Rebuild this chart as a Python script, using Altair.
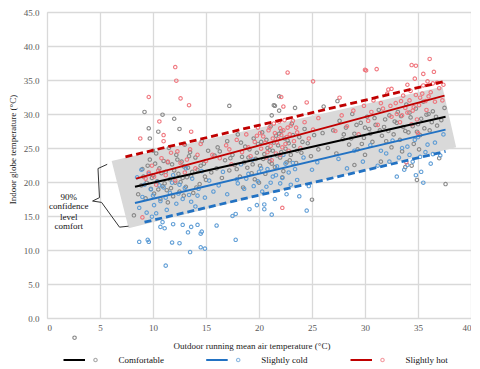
import altair as alt
import pandas as pd

# ---------------- data ----------------
comfortable_pts = [
    (8.6,18.2),(8.9,19.5),(9.1,20.8),(9.3,17.6),(9.5,22.4),(9.7,23.3),(9.8,19.0),(10.0,21.0),
    (10.1,18.3),(10.3,24.2),(10.4,20.1),(10.6,22.0),(10.7,17.5),(10.9,19.4),(11.0,23.1),(11.2,21.5),
    (11.3,18.8),(11.5,25.0),(11.6,20.4),(11.8,22.6),(11.9,17.9),(12.1,19.9),(12.2,24.0),(12.4,21.2),
    (12.5,18.6),(12.7,23.0),(12.8,20.6),(13.0,25.5),(13.1,19.3),(13.3,22.1),(13.5,24.4),(13.6,20.9),
    (13.8,18.4),(14.0,23.6),(14.2,21.8),(14.4,19.7),(14.6,26.0),(14.8,22.7),(15.0,20.3),(15.2,24.6),
    (15.5,21.4),(15.8,23.9),
    (9.4,19.9),(9.9,20.6),(10.2,22.7),(10.5,18.9),(10.8,21.3),(11.1,19.8),(11.4,22.9),(11.7,19.1),
    (12.0,21.7),(12.3,23.3),(12.6,20.0),(12.9,22.3),(13.2,20.7),(13.4,23.8),(13.7,21.5),(14.1,19.2),
    (14.5,22.4),(14.9,20.8),(10.0,24.6),(11.4,17.0),(12.9,18.0),(9.0,21.9),
    (9.2,30.3),(9.6,27.9),(9.7,26.4),(10.5,27.4),(10.9,29.9),(12.0,29.3),(12.5,27.8),(16.1,25.1),
    (17.2,31.2),(8.2,15.1),
    (16.0,22.0),(16.3,24.5),(16.5,20.6),(16.8,23.2),(17.0,26.0),(17.2,21.7),(17.5,24.0),(17.7,22.5),
    (18.0,27.0),(18.2,20.8),(18.4,23.7),(18.7,25.2),(18.9,22.1),(19.1,24.8),(19.3,21.3),(19.5,26.4),
    (19.7,23.4),(19.9,25.6),(20.1,22.4),(20.3,27.3),(20.5,24.1),(20.6,21.2),(20.8,25.0),(21.0,23.0),
    (21.1,28.2),(21.3,24.6),(21.5,22.2),(21.6,26.8),(21.8,25.4),(22.0,23.6),(22.1,27.5),(22.3,21.6),
    (22.5,24.9),(22.7,26.1),(22.9,23.2),(23.1,28.6),(23.3,25.3),(23.5,22.8),(23.8,26.6),(24.0,24.3),
    (24.3,27.8),(24.6,25.7),(24.9,23.8),(25.2,26.9),(25.6,24.8),(26.0,27.2),
    (17.3,23.5),(17.9,21.9),(18.3,25.8),(18.6,22.9),(19.0,23.6),(19.4,22.6),(19.8,24.3),(20.2,25.9),
    (20.4,23.4),(20.7,26.2),(21.0,24.7),(21.2,22.7),(21.4,25.8),(21.7,23.9),(21.9,27.1),(22.1,24.4),
    (22.4,26.4),(22.6,22.9),(22.8,25.7),(23.0,24.0),(23.2,26.9),(23.6,24.6),(24.1,25.9),(19.6,20.4),
    (22.2,20.7),
    (21.9,32.6),(21.4,31.3),(21.2,29.8),(21.9,30.5),(23.4,30.9),(21.5,31.2),(26.1,31.1),(27.4,31.9),
    (25.0,17.4),(18.5,19.2),(20.0,19.9),
    (26.5,25.0),(27.0,27.6),(27.3,24.2),(27.6,29.0),(27.9,26.3),(28.2,28.0),(28.5,25.5),(28.8,30.0),
    (29.0,27.1),(29.3,24.8),(29.6,28.7),(29.9,26.5),(30.2,29.6),(30.4,27.8),(30.7,25.9),(31.0,28.4),
    (31.3,30.6),(31.6,26.8),(31.9,29.2),(32.2,27.5),(32.5,25.1),(32.8,28.9),(33.1,30.3),(33.3,26.2),
    (33.6,28.1),(33.9,31.4),(34.1,27.3),(34.3,29.5),(34.6,25.6),(34.8,30.8),(35.0,28.5),(35.2,26.9),
    (35.5,31.8),(35.8,29.9),(36.1,27.6),(36.4,30.4),(36.8,28.3),(37.2,29.1),(37.5,30.9),
    (28.0,27.0),(28.7,26.4),(29.2,28.4),(29.7,25.6),(30.0,28.0),(30.5,27.1),(30.9,29.4),(31.4,27.6),
    (31.8,28.1),(32.3,29.8),(32.7,27.0),(33.0,28.7),(33.4,29.7),(33.8,27.5),(34.2,30.2),(34.5,28.2),
    (34.9,27.4),(35.3,29.3),(35.6,27.9),(36.0,30.0),(36.3,28.8),(36.7,29.6),(35.1,24.8),(33.5,24.5),
    (32.0,26.0),(30.0,24.0),
    (34.9,20.3),(33.8,22.2),(34.4,22.4),(37.6,19.7),(37.0,23.5),(31.5,23.0),(29.0,22.5),
    (2.6,-2.9),
]

slightly_cold_pts = [
    (8.5,20.7),(8.9,21.8),(9.6,21.2),(8.7,16.2),(9.0,17.8),(9.4,15.5),(9.8,18.9),(10.1,16.6),
    (10.4,20.0),(10.7,17.2),(11.0,19.2),(11.3,15.9),(11.6,18.4),(11.9,21.0),(12.2,16.8),(12.5,19.6),
    (12.8,17.5),(13.1,22.0),(13.4,18.1),(13.7,20.5),(14.0,16.4),(14.3,19.0),(14.6,21.6),(14.9,17.7),
    (15.3,20.2),(15.7,18.6),
    (9.2,19.6),(10.0,18.0),(10.6,19.5),(11.2,17.7),(11.8,19.9),(12.4,18.3),(13.0,19.1),(13.6,17.1),
    (14.2,18.0),(9.9,14.9),(10.3,15.4),
    (8.7,11.2),(9.6,11.2),(9.5,11.5),(10.9,14.1),(11.9,13.8),(12.8,13.7),(13.6,13.4),(14.2,13.7),
    (13.3,12.6),(14.6,12.7),(14.5,12.4),(11.8,11.1),(12.5,11.0),(13.5,9.7),(14.9,10.2),(14.5,10.4),
    (11.2,7.7),(10.7,13.4),(11.1,13.2),(16.0,13.6),(17.8,11.5),
    (16.2,19.5),(16.6,21.5),(17.0,18.2),(17.5,15.0),(17.8,15.3),(17.9,20.4),(18.3,22.6),(18.6,19.0),
    (19.0,21.2),(19.1,16.0),(19.4,23.3),(19.8,16.6),(19.9,20.1),(20.2,22.0),(20.5,16.7),(20.5,16.0),
    (20.7,19.3),(21.0,23.5),(21.2,15.2),(21.3,20.8),(21.5,17.5),(21.7,22.3),(22.0,19.8),(22.3,24.0),
    (22.6,18.2),(22.8,21.4),(23.2,22.8),(23.6,20.3),(23.8,17.9),(24.2,23.6),(24.5,15.8),(24.7,19.4),
    (25.0,21.8),(25.5,22.9),
    (18.0,19.8),(18.8,20.5),(19.5,19.4),(20.0,21.5),(20.3,18.6),(20.8,21.9),(21.1,19.9),(21.6,21.0),
    (22.2,20.6),(22.5,22.7),(23.0,19.6),(23.4,21.9),
    (27.5,23.4),(28.3,22.0),(29.0,24.6),(29.8,23.0),(30.5,25.4),(31.2,22.4),(32.0,24.2),(32.6,26.1),
    (33.2,23.6),(33.7,21.8),(34.0,25.2),(34.5,23.0),(35.0,26.6),(35.3,21.5),(35.7,24.4),(36.2,22.7),
    (36.6,25.8),(37.1,23.9),(37.4,27.0),(33.0,20.8),(34.8,21.0),(35.5,19.9),
    (31.5,24.6),(32.3,23.0),(33.5,25.0),(34.2,24.0),(34.7,26.2),(35.2,23.7),(35.9,25.5),(36.4,24.1),
    (34.0,22.5),
]

slightly_hot_pts = [
    (9.0,14.8),(9.3,20.5),(9.9,22.4),(10.3,19.6),(10.8,23.5),(11.2,21.0),(11.7,24.3),(12.1,20.2),
    (12.6,22.8),(13.0,21.4),(13.5,24.8),(14.0,22.0),(14.5,25.6),(15.0,23.1),(15.6,24.0),
    (9.6,21.4),(10.5,21.7),(11.4,23.0),(12.3,24.5),(13.2,23.3),(14.2,24.0),(10.1,20.8),(12.9,25.6),
    (12.1,36.9),(12.2,34.9),(9.6,32.5),(12.6,32.3),(13.4,31.3),(10.6,28.9),(11.0,26.9),(13.6,27.4),
    (8.8,26.4),(11.0,26.0),(17.2,24.8),
    (16.3,23.5),(16.9,25.4),(17.4,22.6),(17.9,26.2),(18.4,24.4),(18.8,27.0),(19.2,23.8),(19.6,25.9),
    (19.9,28.0),(20.2,24.9),(20.4,26.7),(20.7,23.6),(20.9,27.6),(21.1,25.3),(21.4,28.6),(21.6,24.2),
    (21.8,26.3),(22.0,27.9),(22.2,25.1),(22.4,29.1),(22.6,26.6),(22.8,24.6),(23.0,28.3),(23.3,26.0),
    (23.6,27.3),(23.9,25.0),(24.3,28.8),(24.7,26.4),(25.1,27.7),(25.6,29.4),
    (19.0,25.1),(19.8,26.8),(20.1,27.2),(20.6,25.8),(21.0,28.0),(21.3,26.4),(21.5,27.2),(21.7,25.8),
    (21.9,28.9),(22.1,26.9),(22.3,27.6),(22.5,25.6),(22.7,28.0),(22.9,27.0),(23.2,29.0),(23.5,28.0),
    (20.8,24.4),(22.0,24.0),(21.2,23.2),
    (22.7,36.1),(22.1,32.5),(22.3,31.1),(25.1,34.8),(24.5,31.7),(27.6,32.4),(22.2,16.2),
    (27.2,27.5),(27.8,29.8),(28.3,28.2),(28.9,30.5),(29.4,27.0),(29.9,31.2),(30.3,29.0),(30.8,32.0),
    (31.2,28.4),(31.7,30.8),(32.1,33.0),(32.5,29.6),(32.9,31.6),(33.3,28.8),(33.6,32.7),(34.0,30.2),
    (34.3,33.4),(34.6,31.0),(34.9,29.2),(35.2,32.4),(35.5,34.2),(35.8,30.6),(36.2,33.2),(36.6,31.8),
    (37.0,33.8),(37.3,32.0),(33.9,22.9),
    (30.6,30.3),(31.5,31.6),(32.4,31.2),(33.0,30.0),(33.4,31.9),(33.8,30.9),(34.2,32.0),(34.5,30.5),
    (34.8,32.8),(35.1,31.3),(35.4,33.0),(35.7,31.9),(36.0,32.6),(36.4,34.5),(34.4,28.5),(35.0,27.2),
    (36.8,34.6),(33.5,29.8),
    (36.1,38.1),(34.8,37.1),(34.4,37.2),(31.1,36.6),(30.0,36.5),(35.5,35.9),(34.7,35.2),(34.0,34.3),
    (35.9,34.8),(32.5,33.7),(32.2,33.6),(37.4,34.3),(30.1,36.4),(36.5,36.2),
]

# regression lines (endpoints)
comfortable_line = [(8.3, 19.3), (37.6, 29.6)]
cold_line = [(8.3, 16.9), (37.6, 27.7)]
hot_line = [(8.4, 20.5), (37.5, 32.7)]
cold_limit = [(9.2, 14.1), (37.6, 24.5)]
hot_limit = [(7.4, 23.7), (37.5, 34.8)]

# 90% confidence band (x, upper, lower)
band_x = [6.1, 7.7, 37.3, 38.6]
band_hi = [23.1, 23.66, 34.0, 25.1]
band_lo = [23.1, 13.2, 24.6, 25.1]

# brace of the annotation
brace_pts = [(5.68, 22.6), (4.81, 21.98), (4.95, 17.7), (4.3, 17.2), (5.15, 17.0),
             (6.84, 13.36), (7.69, 13.5)]
note_lines = ["90%", "confidence", "level", "comfort"]
note_y = [17.8, 16.4, 14.9, 13.6]
note_x = 2.06

categories = ["Comfortable", "Slightly cold", "Slightly hot"]
point_colors = ["#858585", "#5b9bd5", "#f0727a"]
line_colors = ["#000000", "#2272c3", "#c00000"]

x_ticks = [0, 5, 10, 15, 20, 25, 30, 35, 40]
y_ticks = [0, 5, 10, 15, 20, 25, 30, 35, 40, 45]

# ---------------- tables ----------------
pts = pd.DataFrame(
    [dict(x=x, y=y, cat=categories[0]) for x, y in comfortable_pts]
    + [dict(x=x, y=y, cat=categories[1]) for x, y in slightly_cold_pts]
    + [dict(x=x, y=y, cat=categories[2]) for x, y in slightly_hot_pts]
)
pts["order"] = pts["cat"].map({categories[0]: 0, categories[1]: 1, categories[2]: 2})

solid = pd.DataFrame(
    [dict(x=x, y=y, cat=categories[0]) for x, y in comfortable_line]
    + [dict(x=x, y=y, cat=categories[1]) for x, y in cold_line]
    + [dict(x=x, y=y, cat=categories[2]) for x, y in hot_line]
)
dashed = pd.DataFrame(
    [dict(x=x, y=y, cat=categories[1]) for x, y in cold_limit]
    + [dict(x=x, y=y, cat=categories[2]) for x, y in hot_limit]
)
band = pd.DataFrame({"x": band_x, "hi": band_hi, "lo": band_lo})
brace = pd.DataFrame([dict(x=x, y=y, i=i) for i, (x, y) in enumerate(brace_pts)])
note = pd.DataFrame({"t": note_lines, "y": note_y, "x": [note_x] * len(note_lines)})

XS = alt.Scale(domain=[0, 40], nice=False, zero=False)
YS = alt.Scale(domain=[0, 45], nice=False, zero=False)
serif = "Liberation Serif"

xaxis = alt.Axis(values=x_ticks, format="d", grid=True, gridColor="#d9d9d9",
                 gridWidth=1.3, domain=False, ticks=False, labelFont=serif, labelFontSize=9,
                 labelColor="#595959", labelPadding=5, labelOverlap=False,
                 title="Outdoor running mean air temperature (°C)", titleFont=serif,
                 titleFontSize=9, titleFontWeight="normal", titleColor="#222222",
                 titleX=204.5, titleY=27.7, titleBaseline="middle", titleAlign="center")
yaxis = alt.Axis(values=y_ticks, format=".1f", grid=True, gridColor="#d9d9d9",
                 gridWidth=1.3, domain=False, ticks=False, labelFont=serif, labelFontSize=9,
                 labelColor="#595959", labelPadding=8, labelOverlap=False,
                 title="Indoor globe temperature (°C)", titleFont=serif, titleFontSize=9,
                 titleFontWeight="normal", titleColor="#222222", titleAngle=270,
                 titleX=-34.5, titleY=137, titleBaseline="middle", titleAlign="center")


def X(field):
    return alt.X(field, scale=XS, axis=xaxis)


def Y(field):
    return alt.Y(field, scale=YS, axis=yaxis)


band_layer = alt.Chart(band).mark_area(color="#d9d9d9", opacity=1).encode(
    x=X("x:Q"), y=Y("hi:Q"), y2="lo:Q",
)

point_layer = alt.Chart(pts).mark_point(filled=False, size=12, strokeWidth=1.1, opacity=0.95).encode(
    x=X("x:Q"), y=Y("y:Q"),
    color=alt.Color("cat:N", scale=alt.Scale(domain=categories, range=point_colors), legend=None),
    order="order:Q",
)

solid_layer = alt.Chart(solid).mark_line(strokeWidth=2).encode(
    x=X("x:Q"), y=Y("y:Q"),
    color=alt.Color("cat:N", scale=alt.Scale(domain=categories, range=line_colors), legend=None),
    detail="cat:N",
)

dashed_layer = alt.Chart(dashed).mark_line(strokeWidth=2.8, strokeDash=[7, 4]).encode(
    x=X("x:Q"), y=Y("y:Q"),
    color=alt.Color("cat:N", scale=alt.Scale(domain=categories, range=line_colors), legend=None),
    detail="cat:N",
)

brace_layer = alt.Chart(brace).mark_line(color="#333333", strokeWidth=1).encode(
    x=X("x:Q"), y=Y("y:Q"), order="i:Q",
)

note_layer = alt.Chart(note).mark_text(font=serif, fontSize=9, color="#111111",
                                        align="center", baseline="middle").encode(
    x=X("x:Q"), y=Y("y:Q"), text="t:N",
)

# ---------------- manual legend (layout in pixels of the plot group) ----------------
leg_line_x = [16.5, 159.2, 303.5]
leg_line_len = 21.5
leg_dot_dx = 32.0
leg_text_dx = 55.0
leg_y = 348
leg = pd.DataFrame({
    "cat": categories,
    "x1": leg_line_x,
    "x2": [v + leg_line_len for v in leg_line_x],
    "xd": [v + leg_dot_dx for v in leg_line_x],
    "xt": [v + leg_text_dx for v in leg_line_x],
    "y": [leg_y] * 3,
})
leg_lines = alt.Chart(leg).mark_rule(strokeWidth=2).encode(
    x=alt.X("x1:Q", scale=None, axis=None), x2="x2:Q", y=alt.Y("y:Q", scale=None, axis=None),
    color=alt.Color("cat:N", scale=alt.Scale(domain=categories, range=line_colors), legend=None),
)
leg_dots = alt.Chart(leg).mark_point(filled=False, size=12, strokeWidth=1.1).encode(
    x=alt.X("xd:Q", scale=None, axis=None), y=alt.Y("y:Q", scale=None, axis=None),
    color=alt.Color("cat:N", scale=alt.Scale(domain=categories, range=point_colors), legend=None),
)
leg_text = alt.Chart(leg).mark_text(font=serif, fontSize=9, color="#111111", align="left",
                                    baseline="middle").encode(
    x=alt.X("xt:Q", scale=None, axis=None), y=alt.Y("y:Q", scale=None, axis=None), text="cat:N",
)

chart = alt.layer(
    band_layer, point_layer, solid_layer, dashed_layer, brace_layer, note_layer,
    leg_lines, leg_dots, leg_text,
).resolve_scale(color="independent").properties(
    width=424, height=306,
    padding={"left": 0, "top": 0, "right": 0, "bottom": 0},
).configure_view(stroke=None).configure(background="white")

chart.save("out.html", embed_options={"renderer": "svg", "actions": False})
